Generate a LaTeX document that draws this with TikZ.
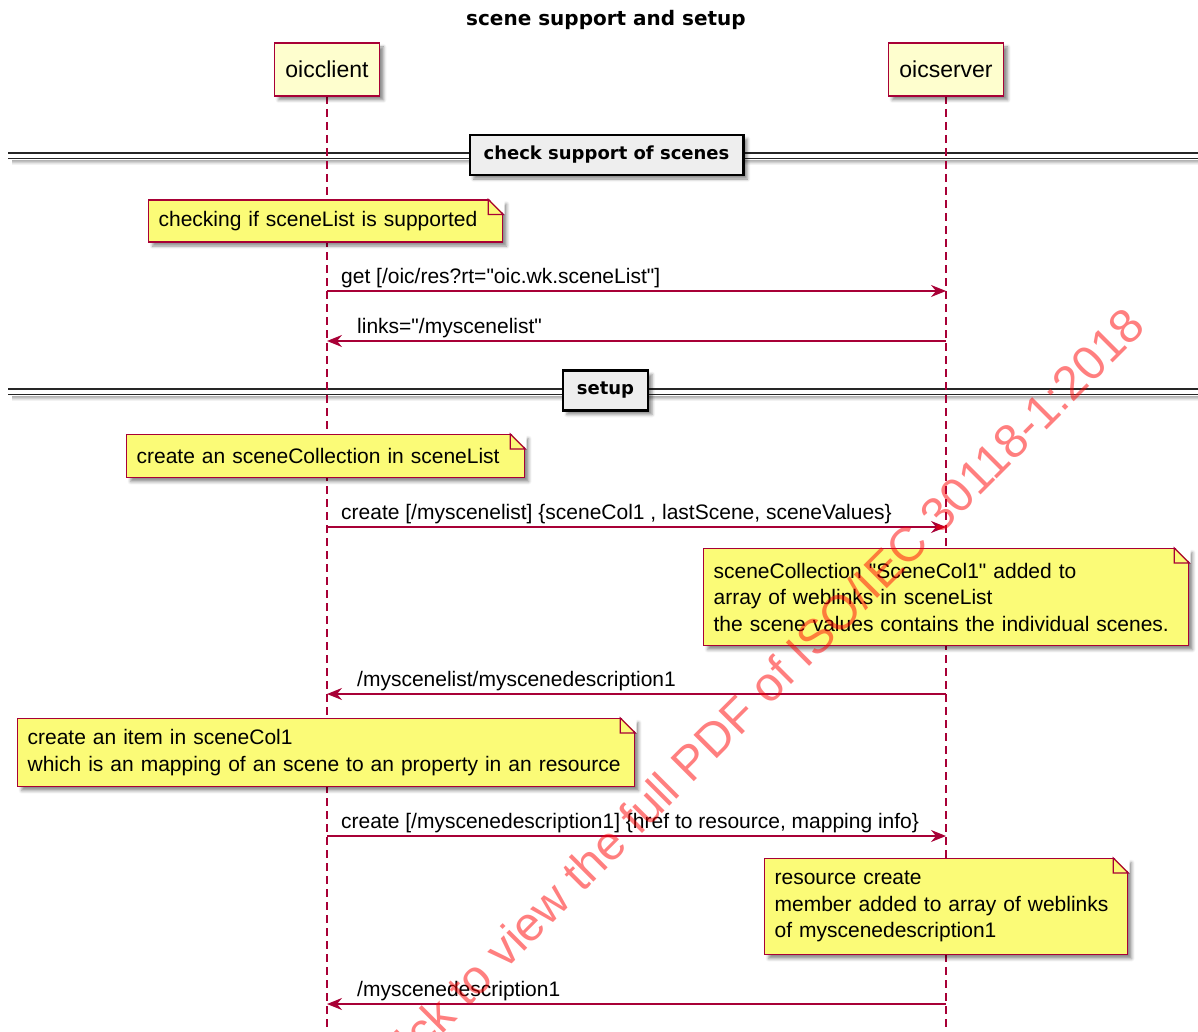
\documentclass[tikz,border=0pt]{standalone}
\usepackage{fontspec}
\setmainfont{Liberation Sans}
\newfontfamily\djv{DejaVu Sans}
\usetikzlibrary{arrows.meta,shadows.blur}
\definecolor{pu}{HTML}{A80036}
\definecolor{partfill}{HTML}{FEFECE}
\definecolor{notefill}{HTML}{FBFB77}
\definecolor{divfill}{HTML}{EEEEEE}
\newcommand\q{\textquotedbl}
\newcommand\drawfold[1]{%
 \fill[white] ([xshift=-15pt,yshift=1.5pt]#1.north east) -- ([xshift=1.5pt,yshift=1.5pt]#1.north east) -- ([xshift=1.5pt,yshift=-15pt]#1.north east) -- cycle;
 \draw[pu, line width=1.2pt, line join=miter] ([xshift=-15pt]#1.north east) -- ([yshift=-15pt]#1.north east) -- ([xshift=-15pt,yshift=-15pt]#1.north east) -- cycle;}
\begin{document}
\begin{tikzpicture}[x=1pt,y=-1pt,
 myshadow/.style={blur shadow={shadow xshift=4pt,shadow yshift=-4pt,shadow blur radius=3pt,shadow opacity=45}},
 part/.style={draw=pu,line width=1.5pt,fill=partfill,minimum height=53pt,inner xsep=11pt,font=\fontsize{23}{27}\selectfont,myshadow},
 lifeline/.style={draw=pu,line width=1.3pt,dash pattern=on 8pt off 5pt},
 divline/.style={draw=black!85,line width=1.5pt},
 divshadow/.style={draw=black,line width=1.5pt},
 divbox/.style={draw=black,line width=2.2pt,fill=divfill,minimum height=40pt,inner xsep=14pt,font=\djv\bfseries\fontsize{18}{22}\selectfont,myshadow},
 notebox/.style={draw=pu,line width=1.2pt,fill=notefill,myshadow,anchor=north west,align=left,inner xsep=10pt,inner ysep=0pt,font=\fontsize{21}{26.5}\selectfont},
 msg/.style={draw=pu,line width=1.3pt,-{Stealth[length=15pt,width=12pt,inset=5pt]}},
 msglabel/.style={anchor=base west,inner sep=0pt,font=\fontsize{21}{25}\selectfont},
 wm/.style={font=\fontsize{48}{50}\selectfont,text=red,text opacity=0.5,inner sep=0pt}
]
\useasboundingbox (0,0) rectangle (1198,1032);

% divider lines with soft shadow
\foreach \dy/\op in {0/0.30,1/0.25,2/0.18,3/0.10,4/0.05}{
 \draw[divshadow,draw opacity=\op] (12,160.5+\dy) -- (1198,160.5+\dy);
 \draw[divshadow,draw opacity=\op] (12,396.5+\dy) -- (1198,396.5+\dy);
}
\draw[divline] (8,153) -- (1198,153);
\draw[divline] (8,158.5) -- (1198,158.5);
\draw[divline] (8,389) -- (1198,389);
\draw[divline] (8,394.5) -- (1198,394.5);

% title
\node[font=\djv\bfseries\fontsize{20}{24}\selectfont] (title) at (606,20) {scene support and setup};

% participants and lifelines
\coordinate (clbot) at (327,1036);
\coordinate (srvbot) at (946,1036);
\draw[lifeline] (327,96) -- (clbot);
\draw[lifeline] (946,96) -- (srvbot);
\node[part] (cl) at (327,69.5) {oicclient};
\node[part] (srv) at (946,69.5) {oicserver};

% dividers
\node[divbox] (div1) at (606.5,155) {check support of scenes};
\node[divbox] (div2) at (605.5,390.5) {setup};

% notes
\node[notebox,text width=334pt,minimum height=42pt] (n1) at (148,199.5) {checking if sceneList is supported};
\drawfold{n1}
\node[notebox,text width=378pt,minimum height=43pt] (n2) at (126,434) {create an sceneCollection in sceneList};
\drawfold{n2}
\node[notebox,text width=465pt,minimum height=97pt] (n3) at (703,548) {sceneCollection \q SceneCol1\q{} added to\\array of weblinks in sceneList\\the scene values contains the individual scenes.};
\drawfold{n3}
\node[notebox,text width=597pt,minimum height=68pt] (n4) at (17,718) {create an item in sceneCol1\\which is an mapping of an scene to an property in an resource};
\drawfold{n4}
\node[notebox,text width=343pt,minimum height=96pt] (n5) at (764,858) {resource create\\member added to array of weblinks\\of myscenedescription1};
\drawfold{n5}

% messages
\coordinate (c1) at (327,291); \coordinate (s1) at (946,291);
\draw[msg] (c1) -- (s1);
\node[msglabel] (l1) at (341,283) {get [/oic/res?rt=\q oic.wk.sceneList\q]};

\coordinate (c2) at (327,341); \coordinate (s2) at (946,341);
\draw[msg] (s2) -- (c2);
\node[msglabel] (l2) at (357,333) {links=\q/myscenelist\q};

\coordinate (c3) at (327,527); \coordinate (s3) at (946,527);
\draw[msg] (c3) -- (s3);
\node[msglabel] (l3) at (341,519) {create [/myscenelist] \{sceneCol1 , lastScene, sceneValues\}};

\coordinate (c4) at (327,694); \coordinate (s4) at (946,694);
\draw[msg] (s4) -- (c4);
\node[msglabel] (l4) at (357,686) {/myscenelist/myscenedescription1};

\coordinate (c5) at (327,836); \coordinate (s5) at (946,836);
\draw[msg] (c5) -- (s5);
\node[msglabel] (l5) at (341,828) {create [/myscenedescription1] \{href to resource, mapping info\}};

\coordinate (c6) at (327,1004); \coordinate (s6) at (946,1004);
\draw[msg] (s6) -- (c6);
\node[msglabel] (l6) at (357,996) {/myscenedescription1};

% watermark
\node[wm,rotate=45,anchor=base east] (wm) at (1148,328) {Click to view the full PDF of ISO/IEC 30118-1:2018};
\end{tikzpicture}
\end{document}
